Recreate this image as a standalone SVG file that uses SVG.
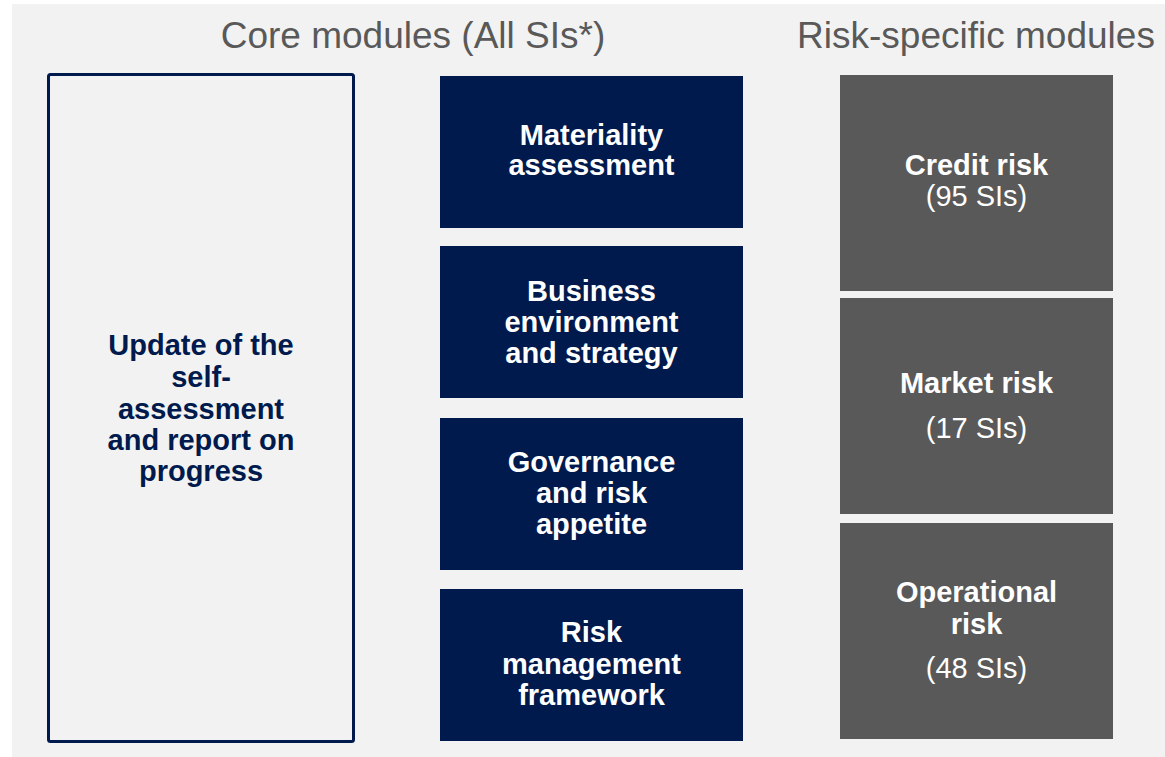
<svg xmlns="http://www.w3.org/2000/svg" width="1165" height="757" viewBox="0 0 1165 757">
  <style>
    .title { font-family: "Liberation Sans", Arial, sans-serif; font-size: 37px; fill: #595959; text-anchor: middle; }
    .nt { font-family: "Liberation Sans", Arial, sans-serif; font-size: 29px; font-weight: bold; fill: #ffffff; text-anchor: middle; }
    .nr { font-family: "Liberation Sans", Arial, sans-serif; font-size: 29px; fill: #ffffff; text-anchor: middle; }
    .lt { font-family: "Liberation Sans", Arial, sans-serif; font-size: 29px; font-weight: bold; fill: #001A4D; text-anchor: middle; }
    .core { fill: #001A4D; }
    .risk { fill: #595959; }
  </style>
  <rect x="12" y="4" width="1153" height="753" fill="#F2F2F2"/>
  <g id="titles">
    <text class="title" x="413" y="48">Core modules (All SIs*)</text>
    <text class="title" x="976" y="48">Risk-specific modules</text>
  </g>
  <g id="update">
    <rect x="48.5" y="74.5" width="305" height="667" rx="2" fill="none" stroke="#001A4D" stroke-width="3"/>
    <text class="lt" x="201" y="355">Update of the</text>
    <text class="lt" x="201" y="387">self-</text>
    <text class="lt" x="201" y="419">assessment</text>
    <text class="lt" x="201" y="450">and report on</text>
    <text class="lt" x="201" y="481">progress</text>
  </g>
  <g id="materiality">
    <rect class="core" x="440" y="76" width="303" height="152"/>
    <text class="nt" x="591.5" y="145">Materiality</text>
    <text class="nt" x="591.5" y="175">assessment</text>
  </g>
  <g id="business">
    <rect class="core" x="440" y="246" width="303" height="152"/>
    <text class="nt" x="591.5" y="301">Business</text>
    <text class="nt" x="591.5" y="332">environment</text>
    <text class="nt" x="591.5" y="363">and strategy</text>
  </g>
  <g id="governance">
    <rect class="core" x="440" y="418" width="303" height="152"/>
    <text class="nt" x="591.5" y="472">Governance</text>
    <text class="nt" x="591.5" y="503">and risk</text>
    <text class="nt" x="591.5" y="534">appetite</text>
  </g>
  <g id="riskmgmt">
    <rect class="core" x="440" y="589" width="303" height="152"/>
    <text class="nt" x="591.5" y="642">Risk</text>
    <text class="nt" x="591.5" y="674">management</text>
    <text class="nt" x="591.5" y="705">framework</text>
  </g>
  <g id="credit">
    <rect class="risk" x="840" y="75" width="273" height="216"/>
    <text class="nt" x="976.5" y="175">Credit risk</text>
    <text class="nr" x="976.5" y="206">(95 SIs)</text>
  </g>
  <g id="market">
    <rect class="risk" x="840" y="298" width="273" height="216"/>
    <text class="nt" x="976.5" y="393">Market risk</text>
    <text class="nr" x="976.5" y="438">(17 SIs)</text>
  </g>
  <g id="operational">
    <rect class="risk" x="840" y="523" width="273" height="216"/>
    <text class="nt" x="976.5" y="602">Operational</text>
    <text class="nt" x="976.5" y="634">risk</text>
    <text class="nr" x="976.5" y="678">(48 SIs)</text>
  </g>
  <g id="connectors"/>
</svg>
